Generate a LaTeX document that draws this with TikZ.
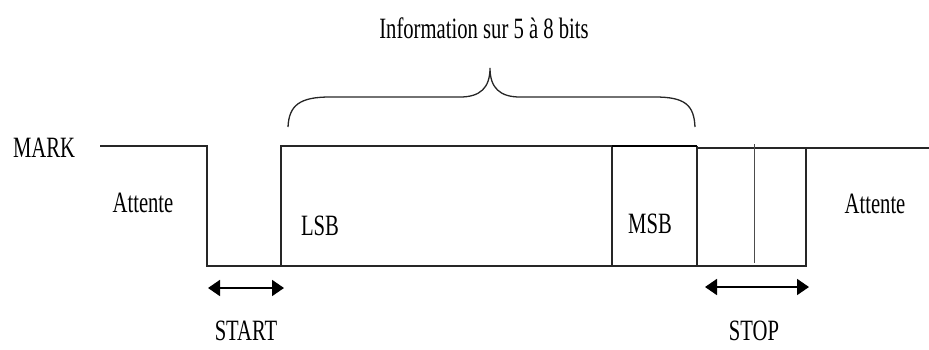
\documentclass[tikz,border=0pt]{standalone}
\usepackage{fontspec}
\setmainfont{Liberation Serif}[FakeStretch=0.7]
\usetikzlibrary{arrows.meta}
\begin{document}
\begin{tikzpicture}[x=1pt,y=-1pt,
  sig/.style={line width=1.3pt,draw=black!85},
  dim/.style={line width=1.8pt,{Triangle[length=12pt,width=16pt]}-{Triangle[length=12pt,width=16pt]}},
  lbl/.style={inner sep=0pt,font=\fontsize{29.5}{32}\selectfont}]
\useasboundingbox (0,0) rectangle (929,349);
% waveform coordinates
\coordinate (m0) at (100,146);
\coordinate (s0) at (207,146);
\coordinate (s1) at (207,266);
\coordinate (s2) at (281,266);
\coordinate (s3) at (281,146);
\coordinate (b0) at (612,146);
\coordinate (b1) at (612,266);
\coordinate (p0) at (697,146);
\coordinate (p1) at (697,266);
\coordinate (q0) at (754,144);
\coordinate (q1) at (754,263);
\coordinate (r0) at (806,148);
\coordinate (r1) at (806,266);
\coordinate (e0) at (929,148);
\draw[sig] (m0) -- (s0) -- (s1) -- (s2) -- (s3) -- (p0);
\draw[sig] (s2) -- (r1) -- (r0);
\draw[sig] (p0 |- r0) -- (e0);
\draw[sig] (b0) -- (b1);
\draw[sig] (p0) -- (p1);
\draw[line width=1pt,draw=black!70] (q0) -- (q1);
\draw[line width=2.6pt] (b0) -- (p0);
% brace
\coordinate (bl) at (288,127);
\coordinate (bt) at (490,68);
\coordinate (br) at (695,127);
\draw[line width=1.3pt,draw=black!85] (bl) .. controls (289,105) and (300,97) .. (330,97) -- (460,97) .. controls (480,97) and (490,88) .. (bt) .. controls (490,88) and (500,97) .. (520,97) -- (655,97) .. controls (685,97) and (694,105) .. (br);
% arrows
\coordinate (a0) at (208,288);
\coordinate (a1) at (284,288);
\coordinate (c0) at (705,287);
\coordinate (c1) at (809,287);
\draw[dim] (a0) -- (a1);
\draw[dim] (c0) -- (c1);
% labels
\node[lbl] (mark) at (44,148) {MARK};
\node[lbl] (att1) at (143,203) {Attente};
\node[lbl] (lsb) at (320,226) {LSB};
\node[lbl] (msb) at (650,224) {MSB};
\node[lbl] (att2) at (875,204) {Attente};
\node[lbl] (start) at (246,331) {START};
\node[lbl] (stop) at (754,331) {STOP};
\node[lbl] (info) at (484,28) {Information sur 5 à 8 bits};
\end{tikzpicture}
\end{document}
